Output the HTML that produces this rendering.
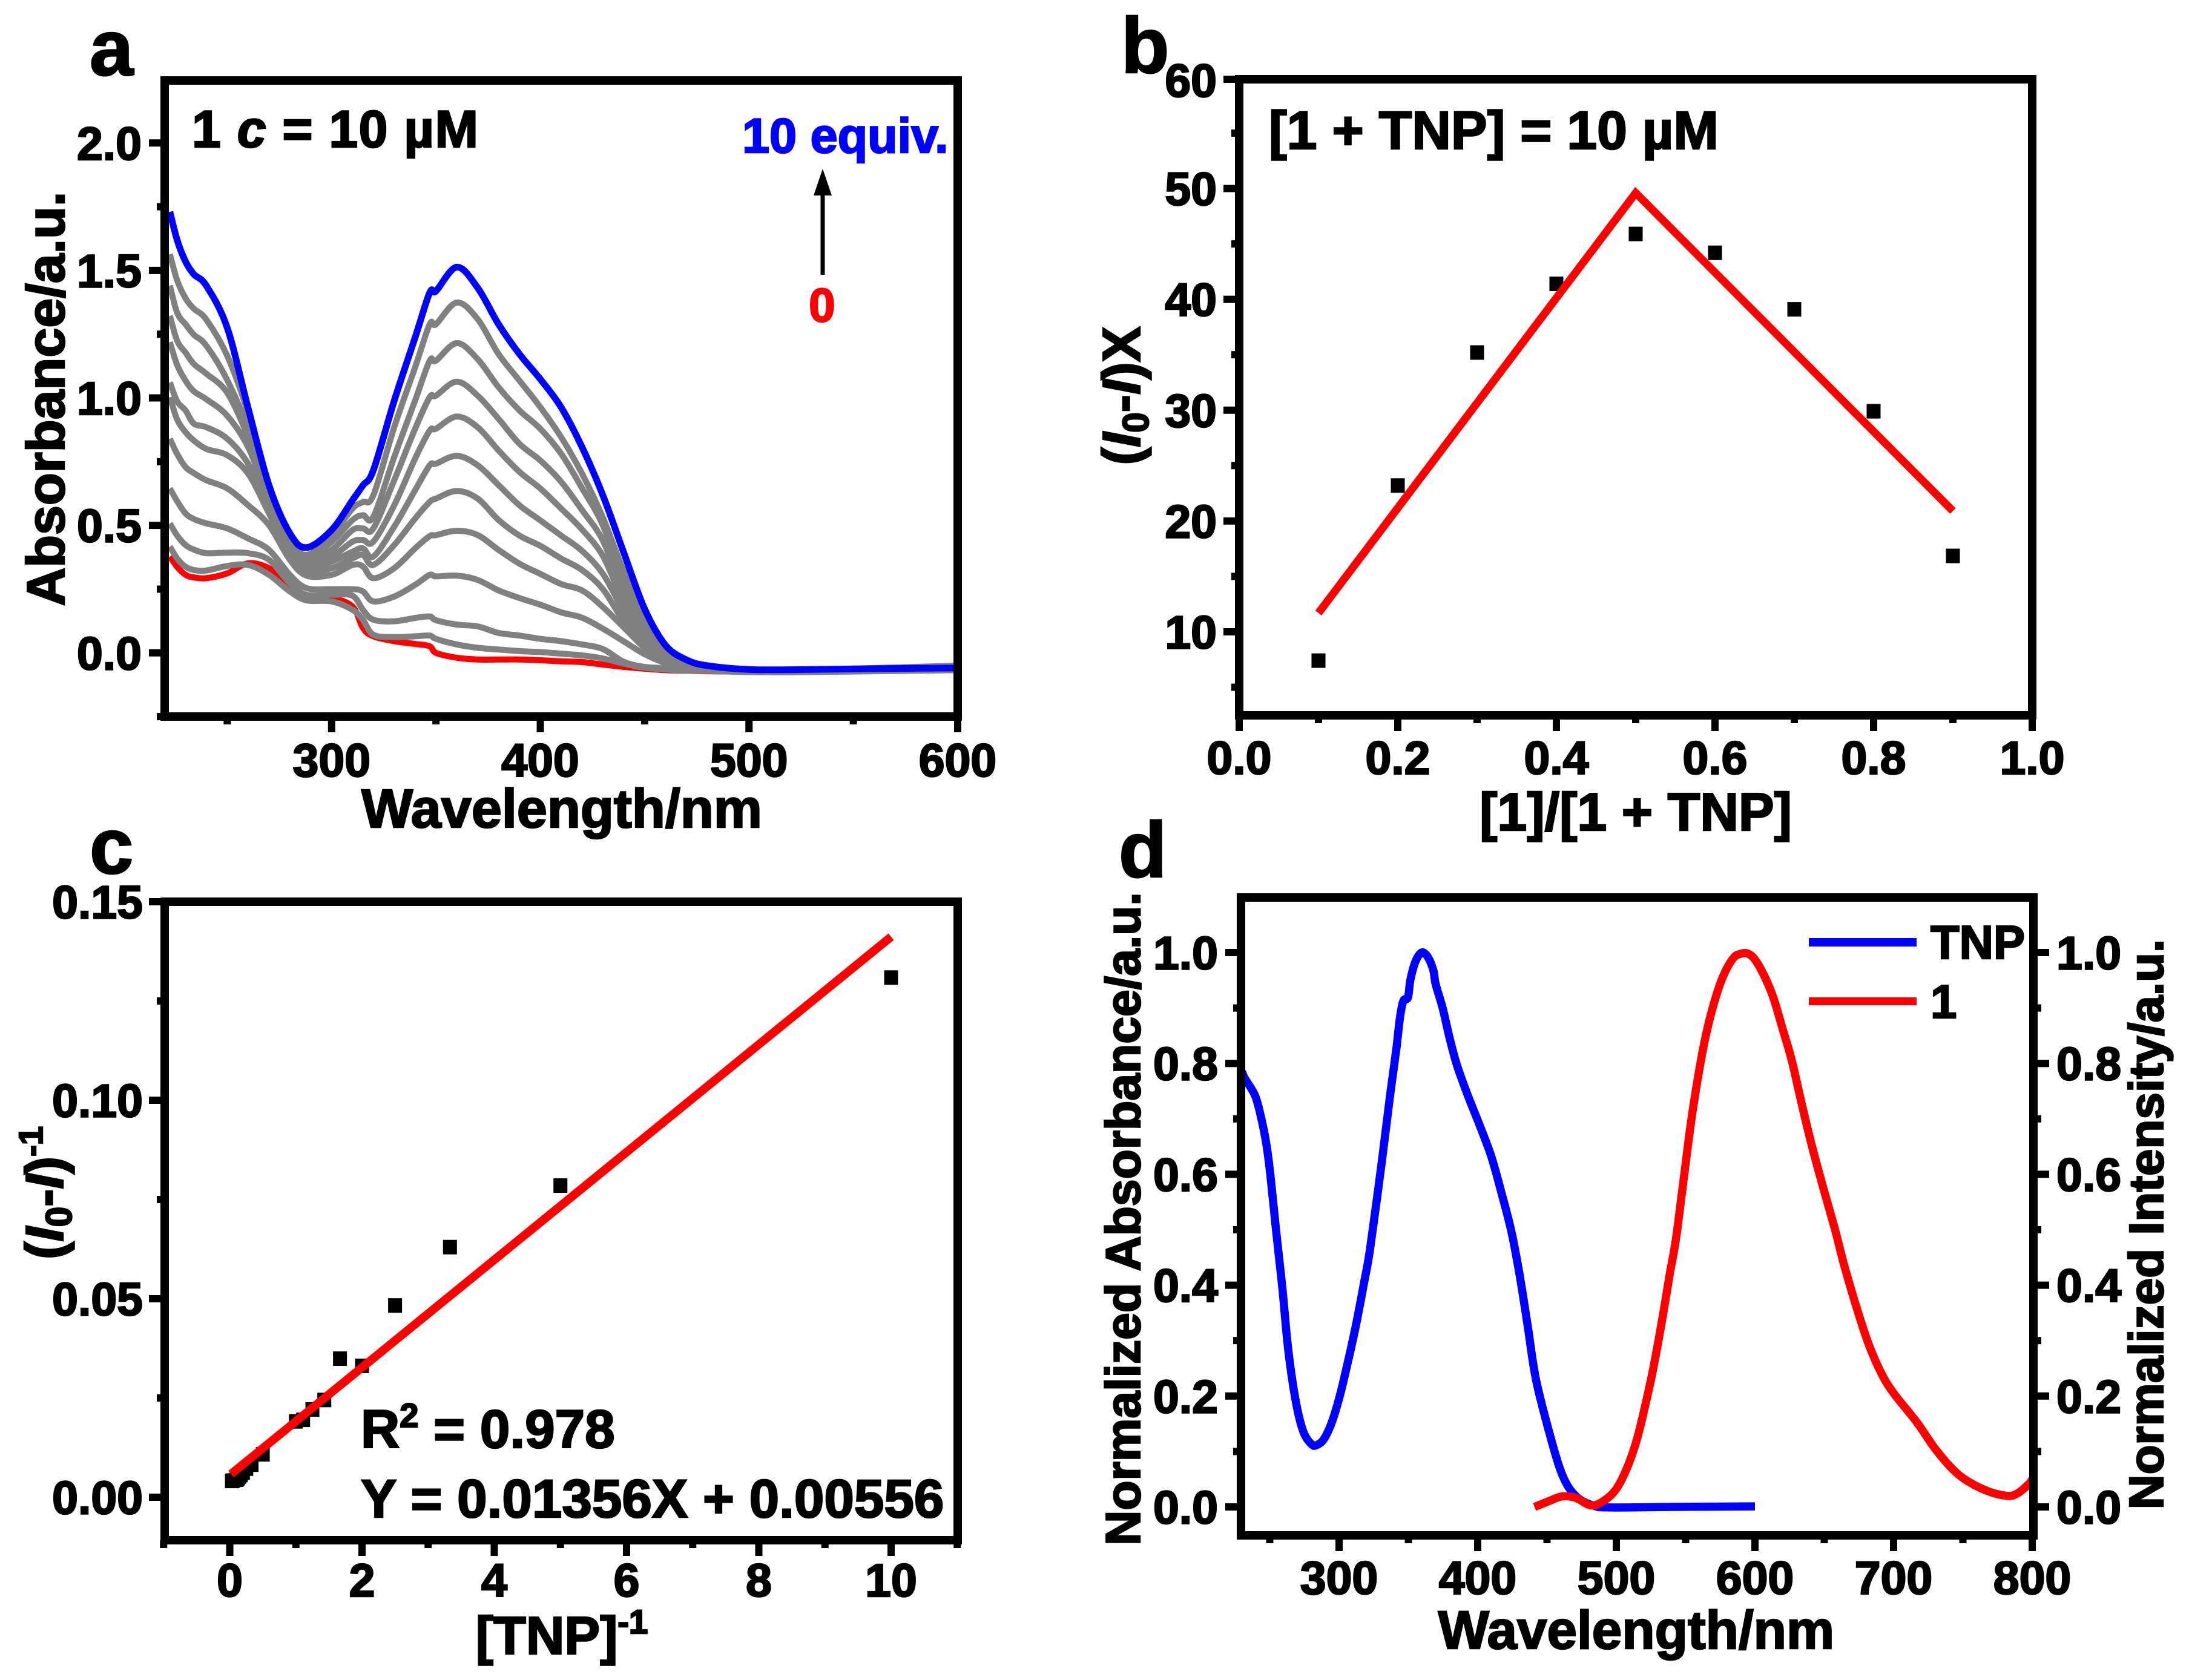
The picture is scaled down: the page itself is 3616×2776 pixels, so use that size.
<!DOCTYPE html>
<html lang="en">
<head>
<meta charset="utf-8">
<title>TNP absorbance and titration charts</title>
<style>
html,body{margin:0;padding:0;background:#fff;width:3616px;height:2776px;overflow:hidden}
svg{display:block}
text{font-family:"Liberation Sans",Arial,sans-serif;font-weight:bold;fill:currentColor;stroke:currentColor;stroke-width:2.5;color:#000}
.tick{font-size:77px}
.title{font-size:88px}
.letter{font-size:130px}
</style>
</head>
<body>
<svg id="fig" xmlns="http://www.w3.org/2000/svg" width="3616" height="2776" viewBox="0 0 3616 2776">
  <rect x="0" y="0" width="3616" height="2776" fill="#fff"/>

  <g id="panelA"></g>
  <g id="panelB"></g>
  <g id="panelC"></g>
  <g id="panelD"></g>

  <g id="frames" fill="none" stroke="#000" stroke-width="14">
    <rect x="272" y="133" width="1310" height="1051"/>
    <rect x="2047" y="131" width="1310" height="1051"/>
    <rect x="272" y="1490" width="1310" height="1055"/>
    <rect x="2050" y="1483" width="1309" height="1054"/>
  </g>

  <!-- panel letters -->
  <text class="letter" x="148" y="124">a</text>
  <text class="letter" x="1852" y="120">b</text>
  <text class="letter" x="148" y="1443">c</text>
  <text class="letter" x="1848" y="1449">d</text>

  <!-- panel a text -->
  <text font-size="90" x="928" y="1367" text-anchor="middle">Wavelength/nm</text>
  <text class="title" transform="translate(106 659) rotate(-90)" text-anchor="middle">Absorbance/a.u.</text>
  <text x="317" y="243" font-size="86" textLength="473" lengthAdjust="spacing">1 <tspan font-style="italic">c</tspan> = 10 µM</text>
  <text x="1226" y="252" font-size="81" style="color:#0000ff">10 equiv.</text>
  <text x="1358" y="531" font-size="78" text-anchor="middle" style="color:#ff0000">0</text>
  <line x1="1359" y1="454" x2="1359" y2="315" stroke="#000" stroke-width="7"/>
  <polygon points="1359,279 1344,323 1374,323" fill="#000"/>

  <!-- panel b text -->
  <text class="title" x="2702" y="1372" text-anchor="middle">[1]/[1 + TNP]</text>
  <text class="title" transform="translate(1883 654) rotate(-90)" text-anchor="middle">(<tspan font-style="italic">I</tspan><tspan font-size="60" dy="14">0</tspan><tspan dy="-14">-</tspan><tspan font-style="italic">I</tspan>)X</text>
  <text x="2096" y="246" font-size="89.5">[1 + TNP] = 10 µM</text>

  <!-- panel c text -->
  <text class="title" x="928" y="2733" text-anchor="middle">[TNP]<tspan font-size="56" dy="-34">-1</tspan></text>
  <text class="title" transform="translate(104 1971) rotate(-90)" text-anchor="middle">(<tspan font-style="italic">I</tspan><tspan font-size="60" dy="14">0</tspan><tspan dy="-14">-</tspan><tspan font-style="italic">I</tspan>)<tspan font-size="56" dy="-34">-1</tspan></text>
  <text x="596" y="2392" font-size="89">R<tspan font-size="56" dy="-34">2</tspan><tspan dy="34"> = 0.978</tspan></text>
  <text x="596" y="2507" font-size="89">Y = 0.01356X + 0.00556</text>

  <!-- panel d text -->
  <text font-size="89" x="2703" y="2724" text-anchor="middle">Wavelength/nm</text>
  <text font-size="80.5" transform="translate(1883 2014) rotate(-90)" text-anchor="middle">Normalized Absorbance/a.u.</text>
  <text font-size="80" transform="translate(3573 2023) rotate(-90)" text-anchor="middle">Normalized Intensity/a.u.</text>
  <line x1="2988" y1="1557" x2="3166" y2="1557" stroke="#0000ff" stroke-width="14"/>
  <text x="3189" y="1584" font-size="78">TNP</text>
  <line x1="2988" y1="1654.5" x2="3166" y2="1654.5" stroke="#ff0000" stroke-width="13"/>
  <text x="3189" y="1682" font-size="78">1</text>
</svg>

<script>
/* ---------- Panel a data: UV-vis titration ---------- */
const wavelengthsA = [222.5,226,230,234,240,250,260,270,280,288,300,310,315,320,330,340,347,350,360,370,380,390,400,410,420,430,440,450,460,470,480,500,520,550,600];
const absBlue = [1.730,1.619,1.535,1.485,1.440,1.275,.96,.657,.469,.413,.482,.599,.657,.716,.989,1.237,1.413,1.419,1.513,1.432,1.289,1.172,1.074,.963,.807,.618,.393,.172,.03,-.027,-.05,-.065,-.066,-.063,-.059];
const absGray1 = [1.564,1.461,1.391,1.35,1.307,1.165,.94,.645,.449,.384,.462,.566,.592,.618,.885,1.120,1.289,1.289,1.374,1.309,1.172,1.068,.964,.846,.703,.53,.32,.14,.02,-.035,-.05,-.068,-.068,-.062,-.05];
const absGray2 = [1.441,1.334,1.289,1.248,1.205,1.07,.88,.631,.436,.371,.436,.521,.540,.534,.768,.990,1.146,1.146,1.215,1.152,1.042,.951,.879,.781,.646,.50,.27,.11,.01,-.04,-.055,-.068,-.069,-.064,-.053];
const absGray3 = [1.322,1.224,1.178,1.133,1.095,1.02,.846,.618,.423,.358,.404,.482,.488,.488,.677,.879,1.003,1.009,1.064,1.009,.918,.820,.755,.671,.560,.44,.235,.095,0,-.04,-.055,-.069,-.07,-.065,-.055];
const absGray4 = [1.219,1.129,1.068,1.026,.995,.93,.807,.599,.410,.345,.378,.436,.443,.436,.579,.762,.872,.879,.927,.885,.794,.710,.645,.566,.484,.38,.20,.08,-.005,-.045,-.06,-.07,-.071,-.066,-.057];
const absGray5 = [1.061,.986,.951,.899,.885,.84,.742,.573,.397,.332,.358,.397,.410,.378,.495,.638,.736,.742,.773,.736,.658,.579,.52,.46,.40,.31,.165,.06,-.012,-.05,-.06,-.071,-.072,-.068,-.059];
const absGray6 = [1.003,.915,.866,.833,.80,.775,.703,.547,.384,.319,.332,.371,.384,.345,.423,.527,.592,.605,.635,.605,.521,.46,.42,.37,.325,.25,.125,.045,-.02,-.055,-.065,-.072,-.073,-.069,-.061];
const absGray7 = [.840,.78,.729,.705,.677,.645,.579,.501,.365,.303,.306,.345,.339,.293,.332,.410,.458,.462,.479,.462,.404,.35,.31,.27,.245,.18,.10,.02,-.03,-.055,-.065,-.073,-.074,-.07,-.063];
const absGray8 = [.645,.595,.547,.525,.508,.488,.449,.404,.306,.254,.250,.250,.241,.202,.221,.267,.306,.300,.303,.286,.245,.215,.189,.159,.138,.095,.045,-.005,-.04,-.06,-.07,-.074,-.075,-.071,-.065];
const absGray9 = [.508,.46,.423,.405,.391,.393,.391,.365,.273,.228,.228,.224,.169,.130,.124,.137,.143,.128,.111,.104,.078,.068,.055,.046,.033,.015,-.035,-.055,-.06,-.068,-.07,-.075,-.075,-.072,-.067];
const absGray10 = [.417,.37,.338,.325,.323,.341,.345,.306,.241,.206,.202,.169,.130,.071,.062,.065,.068,.055,.033,.020,.013,.007,.003,-.003,-.010,-.022,-.042,-.058,-.065,-.07,-.07,-.075,-.076,-.073,-.068];
const absRed = [.378,.337,.306,.296,.293,.312,.351,.332,.267,.224,.215,.182,.098,.065,.046,.035,.026,0,-.019,-.026,-.026,-.026,-.029,-.033,-.036,-.046,-.055,-.062,-.068,-.07,-.072,-.074,-.075,-.072,-.066];
const xLabelsA = ['300','400','500','600'];
const xMinorA = [250,350,450,550];
const yLabelsA = ['0.0','0.5','1.0','1.5','2.0'];
const yMinorA = [-.25,.25,.75,1.25,1.75];

/* ---------- Panel b data: Job plot ---------- */
const fractionB = [.1,.2,.3,.4,.5,.6,.7,.8,.9];
const signalB = [7.4,23.2,35.2,41.4,45.9,44.2,39.1,29.9,16.85];
const fitFractionB = [.1,.5,.9];
const fitSignalB = [11.7,49.6,20.9];
const xLabelsB = ['0.0','0.2','0.4','0.6','0.8','1.0'];
const xMinorB = [.1,.3,.5,.7,.9];
const yLabelsB = ['10','20','30','40','50','60'];
const yMinorB = [5,15,25,35,45,55];

/* ---------- Panel c data: Benesi-Hildebrand plot ---------- */
const inverseTnpC = [10,5,3.33,2.5,2,1.667,1.43,1.25,1.11,1,.5,.33,.25,.2,.167,.143,.125,.111,.1,.05,.033];
const inverseSignalC = [.1309,.0785,.0630,.0483,.0331,.0349,.0245,.0221,.0195,.0191,.0108,.0082,.0072,.0062,.0056,.0052,.0048,.0046,.0044,.0042,.0041];
const fitXC = [.02,10];
const fitYC = [.00583,.14116];
const xLabelsC = ['0','2','4','6','8','10'];
const xMinorC = [-1,1,3,5,7,9,11];
const yLabelsC = ['0.00','0.05','0.10','0.15'];
const yMinorC = [.025,.075,.125];

/* ---------- Panel d data: spectral overlap ---------- */
const wavelengthsTnp = [230,232,239.4,243.8,247.5,250.4,254.7,259,262.7,266.4,270.7,275,280.2,283.4,289,294.8,300.5,306.4,312.2,318,322.4,331,337,341.3,344,346.4,349.7,351.4,355,359.5,364,368,369.7,374.8,379.9,385,392.3,401,409.7,417,424.3,430,436,441.8,451,461,471,484,496,540,600];
const absorbanceTnp = [.785,.773,.742,.702,.655,.600,.495,.397,.298,.226,.167,.131,.113,.111,.122,.153,.200,.262,.328,.404,.466,.626,.746,.826,.884,.913,.919,.950,.983,1,.992,.968,.943,.899,.844,.797,.746,.691,.633,.568,.497,.422,.328,.233,.14,.058,.019,.002,-.001,0,.001];
const wavelengthsEmission = [441,451,461,471,481,489,499,507,514.3,520.4,526.5,532.6,538.7,543.7,552.7,558,564,570.6,577,584.4,590,595,600.4,607.7,613.5,620,626.6,634,641,649,657.8,664.8,675,683,692,700.4,716.7,730.9,747,765.4,781.7,789.8,797.8,800];
const intensityEmission = [0,.01,.019,.016,.003,.008,.029,.066,.117,.178,.248,.331,.422,.495,.673,.761,.844,.910,.957,.990,.998,.998,.986,.953,.917,.862,.805,.724,.652,.578,.50,.432,.346,.287,.237,.204,.153,.102,.058,.031,.020,.025,.042,.05];
const xLabelsD = ['300','400','500','600','700','800'];
const xMinorD = [250,350,450,550,650,750];
const yLabelsD = ['0.0','0.2','0.4','0.6','0.8','1.0'];
const yMinorD = [.1,.3,.5,.7,.9];

/* ---------- helpers ---------- */
const SVG_NS = 'http://www.w3.org/2000/svg';
function linear(d0, d1, r0, r1) {
  return function (v) { return r0 + (v - d0) * (r1 - r0) / (d1 - d0); };
}
function create(parent, tag, attrs) {
  const el = document.createElementNS(SVG_NS, tag);
  for (const k in attrs) el.setAttribute(k, attrs[k]);
  parent.appendChild(el);
  return el;
}
function smoothPath(xs, ys, sx, sy) {
  const p = xs.map(function (x, i) { return [sx(x), sy(ys[i])]; });
  let d = 'M' + p[0][0].toFixed(1) + ' ' + p[0][1].toFixed(1);
  for (let i = 0; i < p.length - 1; i++) {
    const a = p[Math.max(i - 1, 0)], b = p[i], c = p[i + 1], e = p[Math.min(i + 2, p.length - 1)];
    const c1x = b[0] + (c[0] - a[0]) / 6, c1y = b[1] + (c[1] - a[1]) / 6;
    const c2x = c[0] - (e[0] - b[0]) / 6, c2y = c[1] - (e[1] - b[1]) / 6;
    d += 'C' + c1x.toFixed(1) + ' ' + c1y.toFixed(1) + ' ' + c2x.toFixed(1) + ' ' + c2y.toFixed(1) + ' ' + c[0].toFixed(1) + ' ' + c[1].toFixed(1);
  }
  return d;
}
function drawCurve(parent, xs, ys, sx, sy, color, width, name) {
  const path = create(parent, 'path', {d: smoothPath(xs, ys, sx, sy), fill: 'none', stroke: color, 'stroke-width': width, 'stroke-linejoin': 'round'});
  
  
}
function drawSquares(parent, xs, ys, sx, sy, name) {
  xs.forEach(function (x, i) {
    const r = create(parent, 'rect', {x: sx(x) - 11.5, y: sy(ys[i]) - 12, width: 23, height: 24, fill: '#000'});
    
    
  });
}
function drawXAxis(parent, labels, minors, sx, frameY, baseline, prefix) {
  labels.forEach(function (lab) {
    const x = sx(Number(lab));
    const t = create(parent, 'line', {x1: x, x2: x, y1: frameY, y2: frameY + 26, stroke: '#000', 'stroke-width': 12});
    
    
    const s = create(parent, 'text', {x: x, y: baseline, 'text-anchor': 'middle', class: 'tick'});
    s.textContent = lab;
    
    
  });
  minors.forEach(function (m) {
    const x = sx(m);
    const t = create(parent, 'line', {x1: x, x2: x, y1: frameY, y2: frameY + 13, stroke: '#000', 'stroke-width': 12});
    
    
  });
}
function drawYAxis(parent, labels, minors, sy, frameX, dir, labelX, anchor, prefix) {
  labels.forEach(function (lab) {
    const y = sy(Number(lab));
    const t = create(parent, 'line', {x1: frameX, x2: frameX + dir * 26, y1: y, y2: y, stroke: '#000', 'stroke-width': 12});
    
    
    const s = create(parent, 'text', {x: labelX, y: y + 27.5, 'text-anchor': anchor, class: 'tick'});
    s.textContent = lab;
    
    
  });
  minors.forEach(function (m) {
    const y = sy(m);
    const t = create(parent, 'line', {x1: frameX, x2: frameX + dir * 13, y1: y, y2: y, stroke: '#000', 'stroke-width': 12});
    
    
  });
}

/* ---------- panel a ---------- */
(function () {
  const g = document.getElementById('panelA');
  const sx = linear(220, 600, 272, 1582);
  const sy = linear(0, 2, 1078.8, 236.3);
  drawXAxis(g, xLabelsA, xMinorA, sx, 1184, 1283, 'a');
  drawYAxis(g, yLabelsA, yMinorA, sy, 272, -1, 234, 'end', 'a');
  drawCurve(g, wavelengthsA, absRed, sx, sy, '#ff0000', 10, 'curve-0-equiv');
  const grays = [absGray10, absGray9, absGray8, absGray7, absGray6, absGray5, absGray4, absGray3, absGray2, absGray1];
  grays.forEach(function (series, i) {
    drawCurve(g, wavelengthsA, series, sx, sy, '#808080', 10, 'curve-intermediate-' + (i + 1));
  });
  drawCurve(g, wavelengthsA, absBlue, sx, sy, '#0000ff', 11, 'curve-10-equiv');
})();

/* ---------- panel b ---------- */
(function () {
  const g = document.getElementById('panelB');
  const sx = linear(0, 1, 2047, 3357);
  const sy = linear(10, 50, 1044, 311.5);
  drawXAxis(g, xLabelsB, xMinorB, sx, 1182, 1279, 'b');
  const labs = yLabelsB.filter(function (l) { return l !== '60'; });
  drawYAxis(g, labs, yMinorB, sy, 2047, -1, 2010, 'end', 'b');
  const top = create(g, 'text', {x: 2010, y: 160, 'text-anchor': 'end', class: 'tick'});
  top.textContent = yLabelsB[5];
  
  
  const topTick = create(g, 'line', {x1: 2047, x2: 2021, y1: 131, y2: 131, stroke: '#000', 'stroke-width': 12});
  
  
  drawSquares(g, fractionB, signalB, sx, sy, 'job-plot-point');
  const d = fitFractionB.map(function (x, i) { return (i ? 'L' : 'M') + sx(x).toFixed(1) + ' ' + sy(fitSignalB[i]).toFixed(1); }).join('');
  const fit = create(g, 'path', {d: d, fill: 'none', stroke: '#ff0000', 'stroke-width': 13, 'stroke-linejoin': 'miter'});
  
  
})();

/* ---------- panel c ---------- */
(function () {
  const g = document.getElementById('panelC');
  const sx = linear(0, 10, 379.5, 1472);
  const sy = linear(0, .15, 2474, 1490);
  drawXAxis(g, xLabelsC, xMinorC, sx, 2545, 2638, 'c');
  drawYAxis(g, yLabelsC, yMinorC, sy, 272, -1, 236, 'end', 'c');
  drawSquares(g, inverseTnpC, inverseSignalC, sx, sy, 'benesi-point');
  const fit = create(g, 'line', {x1: sx(fitXC[0]), y1: sy(fitYC[0]), x2: sx(fitXC[1]), y2: sy(fitYC[1]), stroke: '#ff0000', 'stroke-width': 14});
  
  
})();

/* ---------- panel d ---------- */
(function () {
  const g = document.getElementById('panelD');
  const sx = linear(300, 800, 2212, 3357);
  const sy = linear(0, 1, 2490, 1574);
  drawXAxis(g, xLabelsD, xMinorD, sx, 2537, 2634, 'd');
  drawYAxis(g, yLabelsD, yMinorD, sy, 2050, -1, 2012, 'end', 'd-left');
  drawYAxis(g, yLabelsD, yMinorD, sy, 3359, 1, 3397, 'start', 'd-right');
  drawCurve(g, wavelengthsTnp, absorbanceTnp, sx, sy, '#0000ff', 13.5, 'tnp-absorbance-curve');
  drawCurve(g, wavelengthsEmission, intensityEmission, sx, sy, '#ff0000', 13.5, 'emission-curve');
})();
</script>
</body>
</html>
